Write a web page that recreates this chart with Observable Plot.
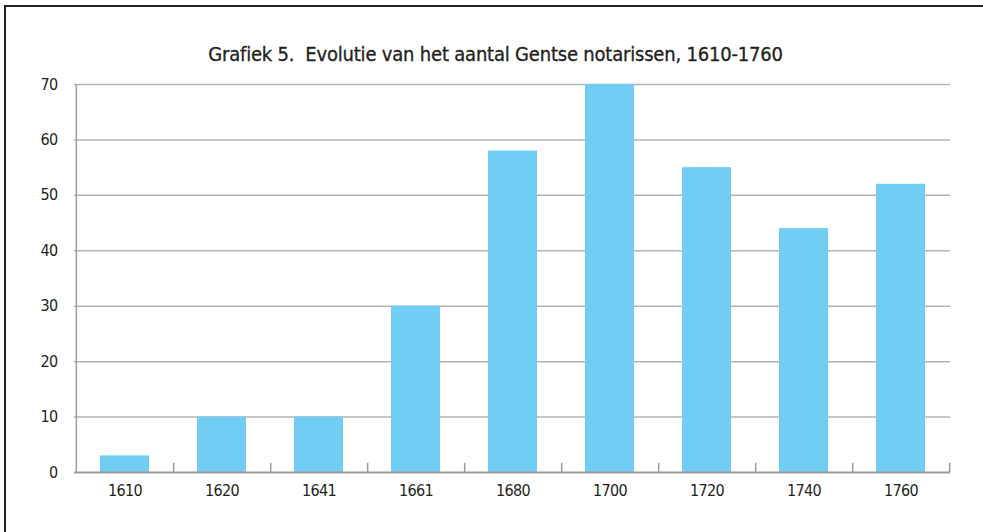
<!DOCTYPE html>
<html>
<head>
<meta charset="utf-8">
<script src="https://cdn.jsdelivr.net/npm/d3@7"></script>
<script src="https://cdn.jsdelivr.net/npm/@observablehq/plot@0.6"></script>
<style>
  html, body { margin: 0; padding: 0; background: #fff; }
  body { width: 983px; height: 532px; position: relative; overflow: hidden; font-family: "DejaVu Sans Condensed", "DejaVu Sans", sans-serif; font-stretch: condensed; color: #231f20; }
  #frame { position: absolute; left: 4px; top: 5px; width: 1200px; height: 800px; border-left: 2px solid #231f20; border-top: 2px solid #231f20; }
  #title { position: absolute; left: 0; top: 42px; width: 991px; text-align: center; font-size: 20px; line-height: 24px; letter-spacing: -0.2px; -webkit-text-stroke: 0.3px #231f20; }
  #chart { position: absolute; left: 0; top: 70px; }
</style>
</head>
<body>
<div id="frame"></div>
<div id="title">Grafiek 5.&nbsp; Evolutie van het aantal Gentse notarissen, 1610-1760</div>
<div id="chart"></div>
<script>
const years = ["1610", "1620", "1641", "1661", "1680", "1700", "1720", "1740", "1760"];
const counts = [3, 10, 10, 30, 58, 70, 55, 44, 52];
const yTicks = [0, 10, 20, 30, 40, 50, 60, 70];

const data = years.map((y, i) => ({year: y, n: counts[i]}));

const W = 983, H = 462, ML = 74, MR = 33, MT = 14, MB = 60;
const step = (W - ML - MR) / years.length;

const plot = Plot.plot({
  width: W,
  height: H,
  marginLeft: ML,
  marginRight: MR,
  marginTop: MT,
  marginBottom: MB,
  style: {fontFamily: '"DejaVu Sans Condensed", "DejaVu Sans", sans-serif', fontStretch: "condensed", fontSize: "16px", letterSpacing: "-0.6px", color: "#231f20", background: "transparent"},
  x: {domain: years, paddingInner: 0.5, paddingOuter: 0.25, label: null},
  y: {domain: [0, 70], label: null},
  marks: [
    Plot.ruleY(yTicks.filter(d => d > 0), {y: d => d, stroke: "#b3b3b3", strokeWidth: 1.5}),
    Plot.barY(data, {x: "year", y: "n", fill: "#72cdf4"}),
    Plot.ruleX(years, {x: d => d, y1: 0, y2: 1.65, dx: step / 2, stroke: "#9a9a9a", strokeWidth: 1.5}),
    Plot.ruleX([years[0]], {x: d => d, y1: 0, y2: 70, dx: -step / 2, stroke: "#9a9a9a", strokeWidth: 1.5}),
    Plot.ruleY([0], {stroke: "#9a9a9a", strokeWidth: 2}),
    Plot.axisY({ticks: yTicks, tickSize: 0, tickPadding: 17, tickFormat: d => String(d), fontSize: 16, fill: "#231f20", stroke: "#231f20", strokeWidth: 0.3}),
    Plot.axisX({tickSize: 0, tickPadding: 12, fontSize: 16, fill: "#231f20", stroke: "#231f20", strokeWidth: 0.3})
  ]
});
document.getElementById("chart").appendChild(plot);
</script>
</body>
</html>
